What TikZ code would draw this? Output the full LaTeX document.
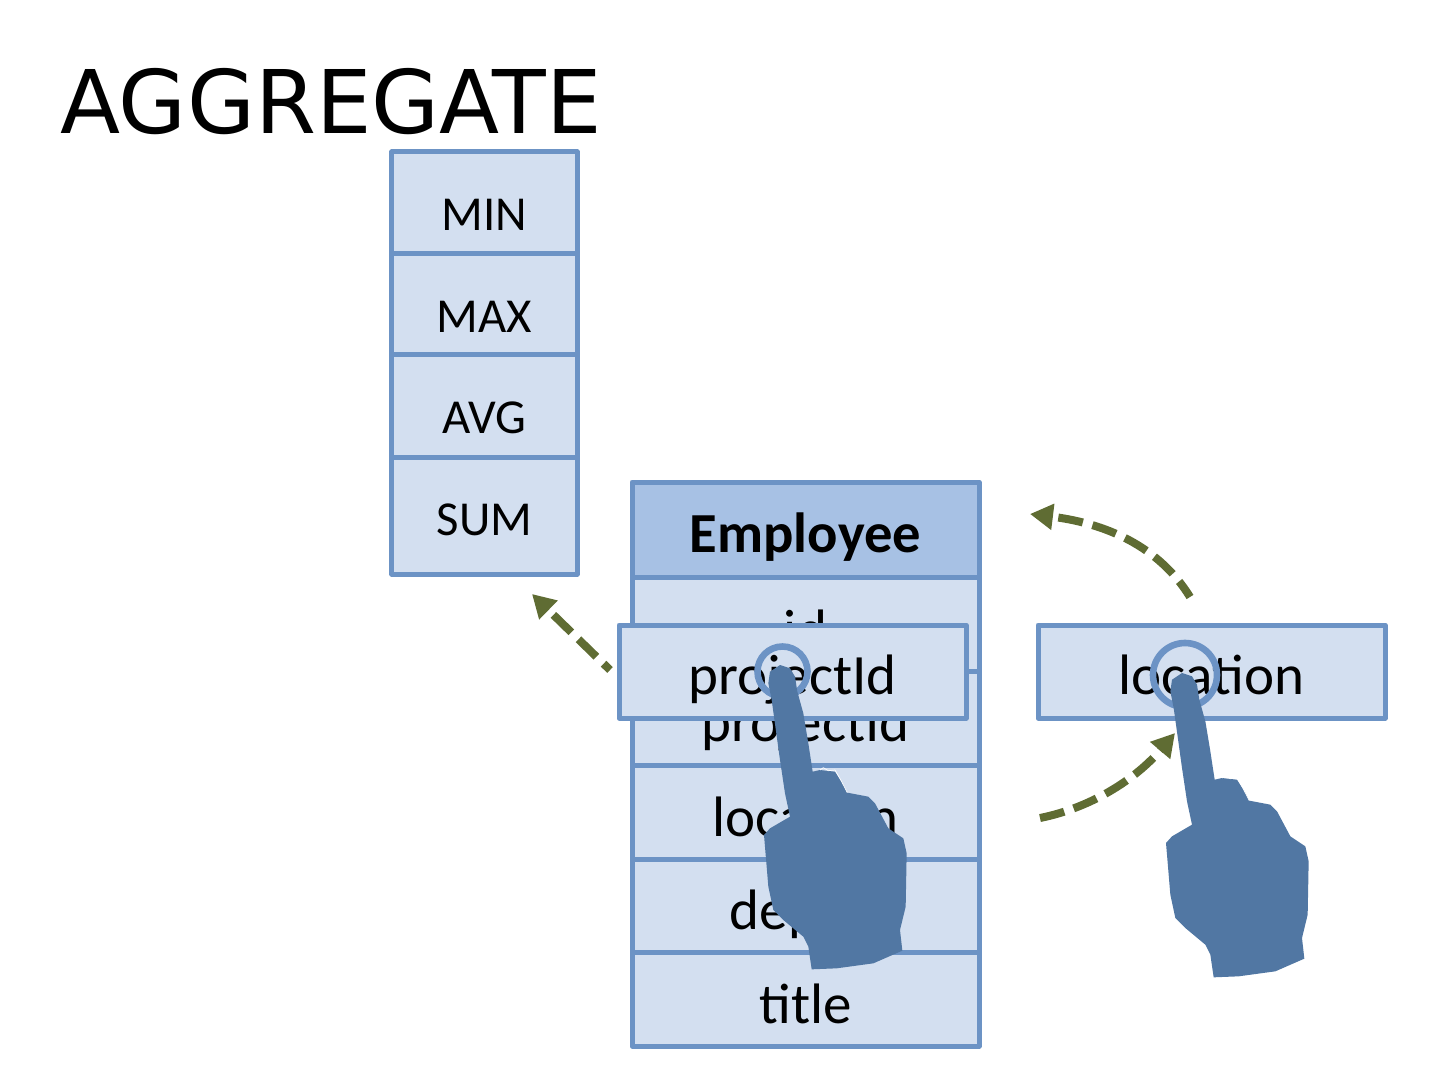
\documentclass[tikz,border=0pt]{standalone}
\usepackage{fontspec}
\setmainfont{Carlito}
\newfontfamily\titlefont{DejaVu Sans}
\usetikzlibrary{arrows.meta}
\definecolor{cellfill}{HTML}{D3DFF0}
\definecolor{headfill}{HTML}{A7C1E4}
\definecolor{cellline}{HTML}{6C93C5}
\definecolor{handblue}{HTML}{5177A3}
\definecolor{olive}{HTML}{5F6C33}
% text whose baseline lies dy below the centre of its cell
\newcommand{\bl}[2]{\smash{\raisebox{-#1pt}{#2}}}
\newcommand{\handshape}[1]{%
  \begin{scope}[shift={(#1)},scale=1/3]
  \fill[handblue] (120,135) -- (150,145) -- (165,170) -- (172,215) -- (190,280) -- (205,370) -- (218,455)
    -- (240,450) -- (285,455) -- (305,485) -- (322,518) -- (385,530) -- (405,550) -- (445,625) -- (490,655)
    -- (500,700) -- (497,860) -- (480,930) -- (487,992) -- (400,1030) -- (290,1045) -- (215,1048) -- (205,980)
    -- (190,950) -- (130,900) -- (100,870) -- (85,800) -- (72,645) -- (90,625) -- (150,590) -- (135,520)
    -- (120,420) -- (95,240) -- (85,190) -- (90,155) -- cycle;
  \draw[white,line width=.35pt] (240,450) -- (250,443) -- (265,452) -- (285,450) -- (305,485) -- (322,518);
  \end{scope}}
\tikzset{
  x=.5pt,y=-.5pt,
  cell/.style={draw=cellline,fill=cellfill,line width=2.5pt,rectangle,inner sep=0pt,font=\fontsize{28.5}{32}\selectfont,text=black,line join=round},
  fncell/.style={cell,font=\fontsize{24.4}{30}\selectfont},
  headcell/.style={cell,fill=headfill,font=\fontsize{28.3}{32}\selectfont\bfseries},
  ring/.style={draw=cellline,circle,line width=3.3pt,inner sep=0pt,fill=none},
  flow/.style={draw=olive,line width=4pt,dash pattern=on 12.5pt off 5pt,-{Triangle[length=11.5pt,width=12.5pt,fill=olive]}},
}
\begin{document}
\begin{tikzpicture}
\useasboundingbox (0,0) rectangle (1440,1080);
\node[anchor=base west,inner sep=0pt,font=\fontsize{43.9}{50}\selectfont\titlefont] (title) at (60,133.5) {AGGREGATE};
% aggregate functions
\node[fncell,minimum width=92.8pt,minimum height=51pt] (min) at (484.5,203) {\bl{14}{MIN}};
\node[fncell,minimum width=92.8pt,minimum height=50.5pt] (max) at (484.5,304.5) {\bl{14}{MAX}};
\node[fncell,minimum width=92.8pt,minimum height=51.5pt] (avg) at (484.5,406.5) {\bl{13.5}{AVG}};
\node[fncell,minimum width=92.8pt,minimum height=58pt] (sum) at (484.5,516) {\bl{9.5}{SUM}};
% employee table
\node[headcell,minimum width=173.5pt,minimum height=47.5pt] (emp) at (805.5,529.5) {\bl{11.5}{Employee}};
\node[cell,minimum width=173.5pt,minimum height=47pt] (id) at (805.5,624) {\bl{12.5}{id}};
\node[cell,minimum width=173.5pt,minimum height=47pt] (pid) at (805.5,718) {\bl{11.5}{projectId}};
\node[cell,minimum width=173.5pt,minimum height=47pt] (loc) at (805.5,812) {\bl{12}{location}};
\node[cell,minimum width=173.5pt,minimum height=46.5pt] (dept) at (805.5,905.5) {\bl{12}{deptId}};
\node[cell,minimum width=173.5pt,minimum height=47pt] (ttl) at (805.5,999) {\bl{12}{title}};
% dragged fields
\node[cell,minimum width=173.5pt,minimum height=46.5pt] (fpid) at (792.5,671.5) {\bl{11.5}{projectId}};
\node[cell,minimum width=173.5pt,minimum height=46.5pt] (floc) at (1211.5,671.5) {\bl{11.5}{location}};
% touch rings
\node[ring,minimum size=25pt] (r1) at (782.5,671.5) {};
\node[ring,minimum size=32pt] (r2) at (1185,675) {};
\handshape{740,620}
\handshape{1142,628}
% arrows
\coordinate (a1s) at (1190,597);
\coordinate (a1e) at (1030,514);
\coordinate (a2s) at (1040,818);
\coordinate (a2e) at (1175,733);
\coordinate (a3s) at (610,670);
\coordinate (a3e) at (532,594);
\draw[flow,dash phase=3pt] (a1s) .. controls (1155,540) and (1095,522) .. (a1e);
\draw[flow] (a2s) .. controls (1090,808) and (1135,780) .. (a2e);
\draw[flow,dash phase=8pt] (a3s) -- (a3e);
\end{tikzpicture}
\end{document}
